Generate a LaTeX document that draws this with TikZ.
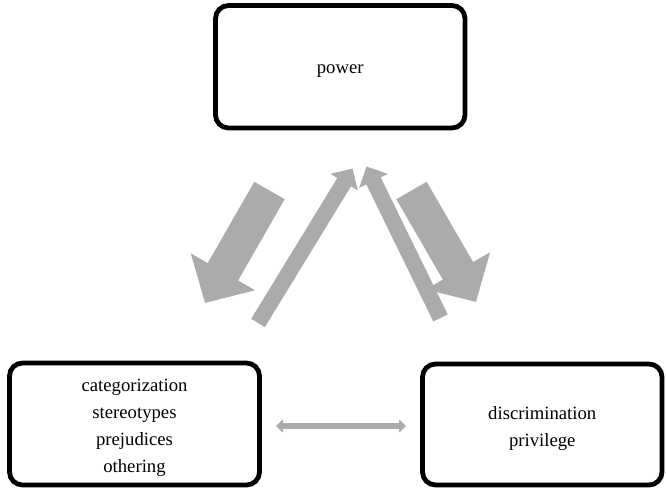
\documentclass[tikz,border=0pt]{standalone}
\usepackage{fontspec}
\setmainfont{Liberation Serif}
\usetikzlibrary{arrows.meta}
\definecolor{arrowgray}{RGB}{171,171,171}
\tikzset{
  box/.style={draw=black, line width=4.8pt, rounded corners=13pt, inner sep=0pt},
  boxtext/.style={align=center, font=\fontsize{18.7}{27}\selectfont, inner sep=0pt, yshift=-4pt},
  bigarrow/.style={draw=arrowgray, line width=35pt, -{Triangle[length=36pt,width=72pt]}},
  thinarrow/.style={draw=arrowgray, line width=16pt, -{Triangle[length=16pt,width=31pt]}},
  dblarrow/.style={draw=arrowgray, line width=6pt, {Triangle[length=7pt,width=13pt]}-{Triangle[length=7pt,width=13pt]}}
}
\begin{document}
\begin{tikzpicture}[x=1pt,y=-1pt]
\useasboundingbox (0,0) rectangle (666,487);
\node[box, minimum width=249.5pt, minimum height=122.5pt,
  label={[boxtext]center:{power}}] (power) at (340.25,66.75) {};
\node[box, minimum width=250pt, minimum height=122pt,
  label={[boxtext]center:{categorization\\stereotypes\\prejudices\\othering}}] (cat) at (134.5,424) {};
\node[box, minimum width=239.5pt, minimum height=121pt,
  label={[boxtext]center:{discrimination\\privilege}}] (disc) at (542.25,424.5) {};
% arrow end points
\coordinate (a1s) at (269.5,190.5);
\coordinate (a1e) at (205,303);
\coordinate (a4s) at (411.5,190.5);
\coordinate (a4e) at (476,302);
\coordinate (a2s) at (258,323);
\coordinate (a2e) at (352.5,168.5);
\coordinate (a3s) at (440.5,318);
\coordinate (a3e) at (366.5,166.5);
\coordinate (dl) at (276,426);
\coordinate (dr) at (406,426);
\draw[bigarrow] (a1s) -- (a1e);
\draw[bigarrow] (a4s) -- (a4e);
\draw[thinarrow] (a2s) -- (a2e);
\draw[thinarrow] (a3s) -- (a3e);
\draw[dblarrow] (dl) -- (dr);
\end{tikzpicture}
\end{document}
